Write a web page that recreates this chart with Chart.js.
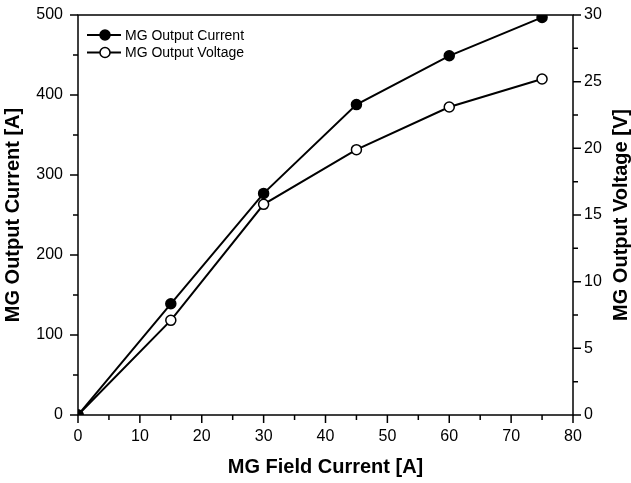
<!DOCTYPE html>
<html>
<head>
<meta charset="utf-8">
<script src="https://cdn.jsdelivr.net/npm/chart.js@4.4.1/dist/chart.umd.min.js"></script>
<style>
  body { margin: 0; background: #fff; }
  canvas { display: block; }
</style>
</head>
<body>
<canvas id="c" width="631" height="483"></canvas>
<script>
const fieldCurrent = [0, 15, 30, 45, 60, 75]
const outputCurrent = [0, 139, 277, 388, 449, 497]
const outputVoltage = [0, 7.1, 15.8, 19.9, 23.1, 25.2]
const seriesNames = ['MG Output Current', 'MG Output Voltage']
const xTitle = 'MG Field Current [A]'
const yTitle = 'MG Output Current [A]'
const y1Title = 'MG Output Voltage [V]'

const FONT = "'Liberation Sans', Arial, sans-serif"

// outward ticks (long for labelled ones), frame, legend, right title
const axesFrame = {
  id: 'axesFrame',
  afterDatasetsDraw(chart) {
    const {ctx, chartArea: a, scales} = chart
    ctx.save()
    ctx.strokeStyle = '#000'
    ctx.lineWidth = 1.5
    ctx.strokeRect(a.left, a.top, a.right - a.left, a.bottom - a.top)
    ctx.beginPath()
    scales.x.ticks.forEach((t, i) => {
      const px = scales.x.getPixelForValue(t.value)
      const len = t.label === '' ? 5 : 8
      ctx.moveTo(px, a.bottom)
      ctx.lineTo(px, a.bottom + len)
    })
    scales.y.ticks.forEach(t => {
      const py = scales.y.getPixelForValue(t.value)
      const len = t.label === '' ? 5 : 8
      ctx.moveTo(a.left, py)
      ctx.lineTo(a.left - len, py)
    })
    scales.y1.ticks.forEach(t => {
      const py = scales.y1.getPixelForValue(t.value)
      const len = t.label === '' ? 5 : 8
      ctx.moveTo(a.right, py)
      ctx.lineTo(a.right + len, py)
    })
    ctx.stroke()

    // legend
    ctx.font = `14px ${FONT}`
    ctx.textBaseline = 'middle'
    ctx.fillStyle = '#000'
    chart.data.datasets.forEach((ds, i) => {
      const ly = 35 + i * 17.5
      ctx.lineWidth = 2
      ctx.beginPath()
      ctx.moveTo(a.left + 9, ly)
      ctx.lineTo(a.left + 43, ly)
      ctx.stroke()
      ctx.beginPath()
      ctx.arc(a.left + 27, ly, 5, 0, Math.PI * 2)
      ctx.fillStyle = ds.pointBackgroundColor
      ctx.fill()
      ctx.lineWidth = 1.5
      ctx.stroke()
      ctx.fillStyle = '#000'
      ctx.fillText(ds.label, a.left + 47, ly + 1)
    })

    // right axis title, reading bottom to top
    ctx.font = `bold 20px ${FONT}`
    ctx.textAlign = 'center'
    ctx.textBaseline = 'alphabetic'
    ctx.translate(scales.y1.right - 4, (a.top + a.bottom) / 2)
    ctx.rotate(-Math.PI / 2)
    ctx.fillText(y1Title, 0, 0)
    ctx.restore()
  }
}

new Chart(document.getElementById('c'), {
  type: 'line',
  data: {
    datasets: [
      {
        label: seriesNames[0],
        data: fieldCurrent.map((x, i) => ({x: x, y: outputCurrent[i]})),
        yAxisID: 'y',
        borderColor: '#000',
        borderWidth: 2,
        pointRadius: 5,
        pointBorderWidth: 1.5,
        pointBackgroundColor: '#000',
        pointBorderColor: '#000',
        clip: 0
      },
      {
        label: seriesNames[1],
        data: fieldCurrent.map((x, i) => ({x: x, y: outputVoltage[i]})),
        yAxisID: 'y1',
        borderColor: '#000',
        borderWidth: 2,
        pointRadius: 5,
        pointBorderWidth: 1.5,
        pointBackgroundColor: '#fff',
        pointBorderColor: '#000',
        clip: 0
      }
    ]
  },
  options: {
    responsive: false,
    animation: false,
    layout: {padding: {top: 15, left: 0, right: 0, bottom: 0}},
    plugins: {legend: {display: false}, tooltip: {enabled: false}},
    scales: {
      x: {
        type: 'linear',
        min: 0,
        max: 80,
        afterFit: s => { s.height = 68 },
        grid: {display: false, drawTicks: false},
        border: {display: false},
        ticks: {
          stepSize: 5,
          padding: 12,
          maxRotation: 0,
          autoSkip: false,
          color: '#000',
          font: {family: FONT, size: 16},
          callback: v => v % 10 === 0 ? String(v) : ''
        },
        title: {
          display: true,
          text: xTitle,
          color: '#000',
          font: {family: FONT, size: 20, weight: 'bold'},
          padding: {top: 0, bottom: 4}
        }
      },
      y: {
        type: 'linear',
        position: 'left',
        min: 0,
        max: 500,
        afterFit: s => { s.width = 78; s.paddingTop = 0; s.paddingBottom = 0 },
        grid: {display: false, drawTicks: false},
        border: {display: false},
        ticks: {
          stepSize: 50,
          padding: 15,
          autoSkip: false,
          color: '#000',
          font: {family: FONT, size: 16},
          callback: v => v % 100 === 0 ? String(v) : ''
        },
        title: {
          display: true,
          text: yTitle,
          color: '#000',
          font: {family: FONT, size: 20, weight: 'bold'},
          padding: {top: 1, bottom: 0}
        }
      },
      y1: {
        type: 'linear',
        position: 'right',
        min: 0,
        max: 30,
        afterFit: s => { s.width = 58; s.paddingTop = 0; s.paddingBottom = 0 },
        grid: {display: false, drawTicks: false},
        border: {display: false},
        ticks: {
          stepSize: 2.5,
          padding: 11,
          autoSkip: false,
          color: '#000',
          font: {family: FONT, size: 16},
          callback: v => v % 5 === 0 ? String(v) : ''
        }
      }
    }
  },
  plugins: [axesFrame]
})
</script>
</body>
</html>
